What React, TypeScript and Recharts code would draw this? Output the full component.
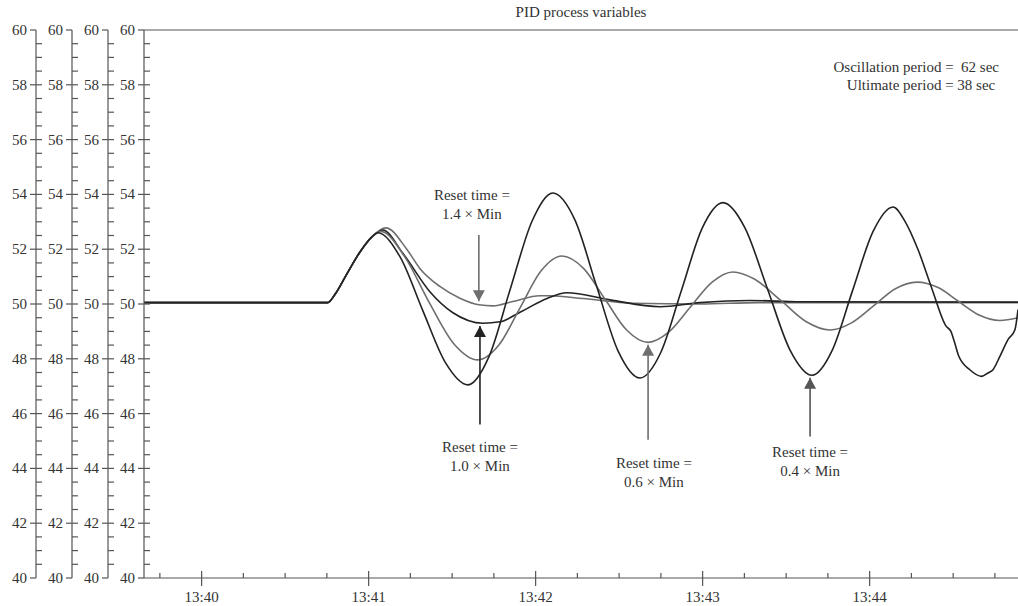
import React from 'react';
import { LineChart, Line, XAxis, YAxis, ReferenceLine, ReferenceDot } from 'recharts';

const FONT = '"Liberation Serif", "Times New Roman", serif';
const AXIS = '#555';
const TEXT = '#333';
const BLACK = '#222';
const GRAY = '#6e6e6e';

// time in seconds after 13:40:00, value in process units
const rampT = [-20.7, 45.3, 47.9, 52.2, 56.9, 61.2];
const rampV = [50.05, 50.05, 50.35, 51.1, 51.9, 52.45];

// reset time = 1.4 x Min
const t14 = [66.2, 73.7, 78.4, 85.6, 92.8, 99.6, 104.7, 111.8, 121.5, 125.1, 137.0, 155.0, 179.0, 200.0, 293.3];
const v14 = [52.78, 52.0, 51.3, 50.64, 50.21, 49.97, 49.93, 50.09, 50.3, 50.3, 50.2, 50.03, 50.0, 50.05, 50.05];

// reset time = 1.0 x Min
const t10 = [65.1, 72.3, 82.0, 90.3, 101.1, 107.2, 114.4, 124.1, 131.2, 146.7, 164.7, 179.0, 197.0, 215.0, 293.3];
const v10 = [52.7, 51.85, 50.45, 49.68, 49.3, 49.35, 49.7, 50.2, 50.41, 50.15, 49.9, 50.05, 50.13, 50.08, 50.07];

// reset time = 0.6 x Min
const t06 = [64.4, 73.0, 81.8, 90.6, 99.3, 106.8, 114.4, 121.9, 129.4, 137.2, 144.9, 152.6, 160.4, 167.9, 175.6,
  183.4, 190.9, 198.4, 208.3, 217.1, 225.7, 233.5, 241.4, 249.1, 257.0, 264.6, 271.9, 279.3, 286.8, 293.3];
const v06 = [52.65, 51.72, 50.05, 48.55, 47.96, 48.5, 49.86, 51.2, 51.75, 51.3, 50.18, 49.06, 48.6, 48.98, 49.89,
  50.8, 51.17, 50.92, 50.11, 49.36, 49.05, 49.31, 49.93, 50.55, 50.8, 50.6, 50.1, 49.6, 49.4, 49.5];

// reset time = 0.4 x Min
const t04 = [63.3, 71.4, 79.5, 87.6, 95.7, 103.2, 110.9, 118.7, 126.2, 134.1, 141.8, 149.6, 157.5, 165.0, 172.4,
  179.8, 187.3, 195.2, 203.3, 211.4, 219.3, 226.5, 233.8, 241.2, 248.4, 252.8, 257.4, 262.4, 267.4, 269.2,
  270.5, 272.0, 276.0, 280.2, 282.5, 284.3, 286.8, 289.7, 292.2, 293.3];
const v04 = [52.6, 51.7, 49.75, 47.86, 47.05, 48.07, 50.55, 53.02, 54.05, 53.07, 50.68, 48.29, 47.3, 48.24, 50.5,
  52.76, 53.7, 52.78, 50.55, 48.32, 47.4, 48.3, 50.47, 52.64, 53.54, 53.0, 51.98, 50.55, 49.2, 49.0,
  48.6, 48.1, 47.6, 47.36, 47.48, 47.6, 48.09, 48.7, 49.06, 49.8];

const xTicks = [-15, 0, 15, 30, 45, 60, 75, 90, 105, 120, 135, 150, 165, 180, 195, 210, 225, 240, 255, 270, 285];
const xLabels: Record<number, string> = { 0: '13:40', 60: '13:41', 120: '13:42', 180: '13:43', 240: '13:44' };
const yTicks = Array.from({ length: 41 }, (_, i) => 40 + i * 0.5);

const build = (t: number[], v: number[]) =>
  [...rampT, ...t].map((tt, i) => ({ t: tt, v: [...rampV, ...v][i] }));

const series = [
  { id: 'a4', data: build(t14, v14), color: GRAY },
  { id: 'a3', data: build(t10, v10), color: BLACK },
  { id: 'a2', data: build(t06, v06), color: GRAY },
  { id: 'a1', data: build(t04, v04), color: BLACK },
];

// arrow annotations: arrow at time t, tip value, tail value, text centre
const notes = [
  { k: '1.4', t: 99.6, tip: 50.1, tail: 52.52, tx: 97.1, ty: 53.98, color: GRAY },
  { k: '1.0', t: 100.0, tip: 49.2, tail: 45.6, tx: 100.0, ty: 44.79, color: BLACK },
  { k: '0.6', t: 160.4, tip: 48.51, tail: 45.05, tx: 162.5, ty: 44.21, color: GRAY },
  { k: '0.4', t: 218.6, tip: 47.31, tail: 45.16, tx: 218.6, ty: 44.61, color: '#555' },
];

const YTick = (p: any) => {
  const v = p.payload.value;
  const ax = p.x;
  const y = p.y;
  const major = Math.abs(v % 2) < 1e-6;
  if (!major) return <line x1={ax} x2={ax + 6} y1={y} y2={y} stroke={AXIS} strokeWidth={1.2} />;
  const edge = v === 40 || v === 60;
  return (
    <g>
      <line x1={ax - 6} x2={edge ? ax : ax + 6} y1={y} y2={y} stroke={AXIS} strokeWidth={1.2} />
      <text x={ax - 9} y={y} dy={5} textAnchor="end" fontSize={15} fontFamily={FONT} fill={TEXT}>{v}</text>
    </g>
  );
};

const XTick = (p: any) => {
  const t = p.payload.value;
  const label = xLabels[t];
  if (!label) return <line x1={p.x} x2={p.x} y1={p.y - 5} y2={p.y} stroke={AXIS} strokeWidth={1.2} />;
  return (
    <g>
      <line x1={p.x} x2={p.x} y1={p.y - 7} y2={p.y + 8} stroke={AXIS} strokeWidth={1.2} />
      <text x={p.x} y={p.y + 24} textAnchor="middle" fontSize={15} fontFamily={FONT} fill={TEXT}>{label}</text>
    </g>
  );
};

export default function App() {
  return (
    <div style={{ position: 'absolute', left: 0, top: 0, width: 1018, height: 606, background: '#fff' }}>
      <LineChart width={1018} height={606} margin={{ top: 30, right: 0, bottom: 0, left: 0 }}>
        <XAxis
          dataKey="t"
          type="number"
          domain={[-20.7, 293.3]}
          allowDataOverflow
          ticks={xTicks}
          interval={0}
          height={28}
          tickSize={0}
          tickMargin={0}
          tickLine={false}
          tick={XTick}
          axisLine={{ stroke: AXIS, strokeWidth: 1.2 }}
        />
        {['a4', 'a3', 'a2', 'a1'].map((id) => (
          <YAxis
            key={id}
            yAxisId={id}
            type="number"
            domain={[40, 60]}
            allowDataOverflow
            ticks={yTicks}
            interval={0}
            width={36}
            tickSize={0}
            tickMargin={0}
            tickLine={false}
            tick={YTick}
            axisLine={{ stroke: AXIS, strokeWidth: 1.2 }}
          />
        ))}
        <ReferenceLine yAxisId="a4" y={60} stroke={AXIS} strokeWidth={1.2} />
        {series.map((s) => (
          <Line
            key={s.id}
            yAxisId={s.id}
            data={s.data}
            dataKey="v"
            type="monotone"
            stroke={s.color}
            strokeWidth={1.6}
            dot={false}
            isAnimationActive={false}
          />
        ))}
        {notes.map((n) => (
          <ReferenceLine
            key={'s' + n.k}
            yAxisId="a4"
            segment={[{ x: n.t, y: n.tail }, { x: n.t, y: n.tip }]}
            stroke={n.color}
            strokeWidth={1.6}
          />
        ))}
        {notes.map((n) => (
          <ReferenceDot
            key={'h' + n.k}
            yAxisId="a4"
            x={n.t}
            y={n.tip}
            shape={(p: any) => {
              const down = n.tail > n.tip;
              const d = down ? -11 : 11;
              return (
                <polygon
                  points={`${p.cx},${p.cy} ${p.cx - 6},${p.cy + d} ${p.cx + 6},${p.cy + d}`}
                  fill={n.color}
                />
              );
            }}
          />
        ))}
        {notes.map((n) => (
          <ReferenceDot
            key={'t' + n.k}
            yAxisId="a4"
            x={n.tx}
            y={n.ty}
            shape={(p: any) => (
              <text x={p.cx} y={p.cy} textAnchor="middle" fontSize={15} fontFamily={FONT} fill={TEXT}>
                <tspan x={p.cx} dy={5}>Reset time =</tspan>
                <tspan x={p.cx} dy={19}>{n.k} × Min</tspan>
              </text>
            )}
          />
        ))}
      </LineChart>
      <div
        style={{
          position: 'absolute', left: 144, top: 3, width: 874, textAlign: 'center',
          fontFamily: FONT, fontSize: 15, lineHeight: '18px', color: TEXT,
        }}
      >
        PID process variables
      </div>
      <div
        style={{
          position: 'absolute', right: 19, top: 58, textAlign: 'right', whiteSpace: 'pre',
          fontFamily: FONT, fontSize: 15, lineHeight: '18px', color: TEXT,
        }}
      >
        {'Oscillation period =  62 sec\nUltimate period = 38 sec '}
      </div>
    </div>
  );
}
